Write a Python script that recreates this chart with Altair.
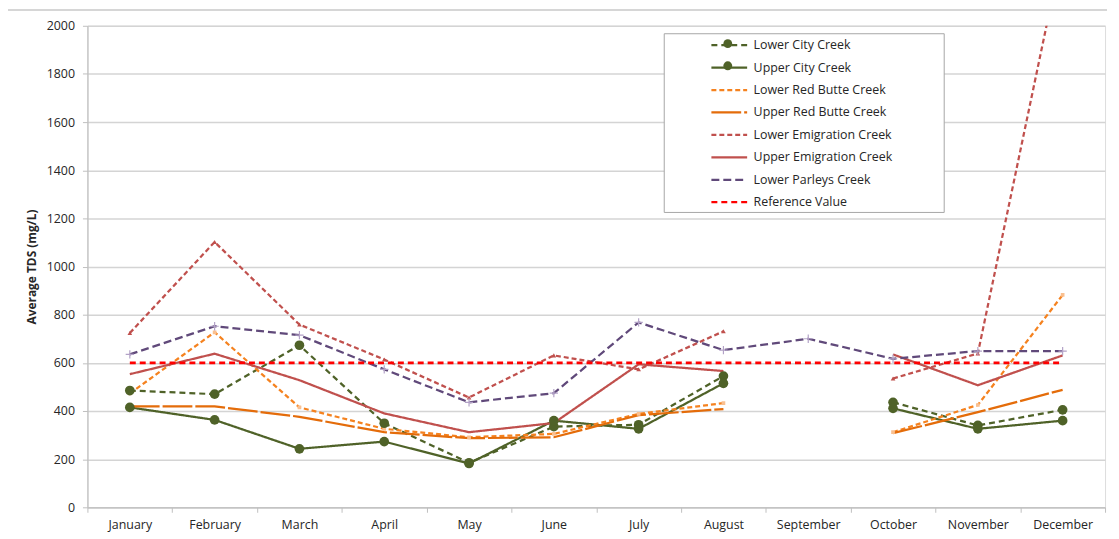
import altair as alt
import pandas as pd

months = ["January", "February", "March", "April", "May", "June", "July",
          "August", "September", "October", "November", "December"]

series_names = ["Lower City Creek", "Upper City Creek", "Lower Red Butte Creek",
                "Upper Red Butte Creek", "Lower Emigration Creek",
                "Upper Emigration Creek", "Lower Parleys Creek", "Reference Value"]

lower_city = [485, 470, 673, 349, 185, 335, 343, 545, None, 436, 340, 405]
upper_city = [415, 363, 243, 273, 182, 360, 326, 515, None, 411, 326, 360]
lower_red_butte = [473, 727, 415, 326, 291, 305, 388, 433, None, 312, 425, 882]
upper_red_butte = [419, 419, 376, 312, 287, 291, 383, 408, None, 308, 395, 488]
lower_emigration = [724, 1102, 759, 614, 456, 631, 573, 731, None, 535, 639, 2320]
upper_emigration = [553, 638, 528, 390, 312, 350, 594, 566, None, 635, 507, 631]
lower_parleys = [635, 752, 715, 573, 436, 474, 768, 653, 700, 617, 649, 649]
reference_value = [600, 600, 600, 600, 600, 600, 600, 600, 600, 600, 600, 600]

series_values = [lower_city, upper_city, lower_red_butte, upper_red_butte,
                 lower_emigration, upper_emigration, lower_parleys, reference_value]

series_colors = ["#4F6228", "#4F6228", "#F5821F", "#E46C0A",
                 "#C0504D", "#C0504D", "#60497A", "#FF0000"]
series_dashes = [[6, 4], [1, 0], [5, 3], [30, 3], [5, 3], [1, 0], [8, 4], [6, 4]]

rows = []
for name, vals in zip(series_names, series_values):
    for m, v in zip(months, vals):
        rows.append({"series": name, "month": m, "value": v})
df = pd.DataFrame(rows)

FONT = "Open Sans"

legend = alt.Legend(
    title=None, orient="none", legendX=636, legendY=9,
    symbolType="M-2,0H2", symbolSize=324, symbolStrokeWidth=2.25,
    labelFont=FONT, labelFontSize=12.5, labelColor="#262626", labelOffset=14,
    rowPadding=5.6, padding=0, symbolOffset=0,
)

x_enc = alt.X("month:N", sort=months,
              scale=alt.Scale(type="band", paddingInner=0, paddingOuter=0, domain=months),
              bandPosition=0.5,
              axis=alt.Axis(title=None, tickBand="extent", labelAngle=0, labelFont=FONT,
                            labelFontSize=12.5, labelColor="#262626", labelPadding=6,
                            tickSize=5, tickColor="#BFBFBF", domainColor="#BFBFBF",
                            domainWidth=1.2, grid=False))
y_enc = alt.Y("value:Q",
              scale=alt.Scale(domain=[0, 2000], nice=False, zero=True),
              axis=alt.Axis(title="Average TDS (mg/L)", values=list(range(0, 2001, 200)),
                            format="d",
                            labelFont=FONT, labelFontSize=12.5, labelColor="#262626",
                            labelPadding=8, tickSize=5, tickColor="#BFBFBF",
                            domainColor="#BFBFBF", domainWidth=1.2,
                            gridColor="#D4D4D4", gridWidth=1.5,
                            titleFont=FONT, titleFontSize=12, titleFontWeight="bold",
                            titleColor="#262626", titlePadding=8))
color_enc = alt.Color("series:N", scale=alt.Scale(domain=series_names, range=series_colors),
                      sort=series_names, legend=legend)
dash_enc = alt.StrokeDash("series:N", scale=alt.Scale(domain=series_names, range=series_dashes),
                          sort=series_names, legend=legend)

base = alt.Chart(df)

one = alt.Data(values=[{"a": 1}])

frame = alt.Chart(one).mark_rect(
    fill="white", stroke="#A6A6A6", strokeWidth=1
).encode(x=alt.value(581), x2=alt.value(863), y=alt.value(8), y2=alt.value(188))

top_border = alt.Chart(one).mark_rule(
    color="#C8C8C8", strokeWidth=1.5
).encode(x=alt.value(-83), x2=alt.value(1027), y=alt.value(-16))

# circle glyphs of the two City Creek legend entries
legend_dot1 = alt.Chart(one).mark_point(
    shape="circle", filled=True, size=80, color="#4F6228", opacity=1
).encode(x=alt.value(645), y=alt.value(18))
legend_dot2 = alt.Chart(one).mark_point(
    shape="circle", filled=True, size=80, color="#4F6228", opacity=1
).encode(x=alt.value(645), y=alt.value(40.3))

lines = base.transform_filter(alt.datum.series != "Reference Value").mark_line(
    strokeWidth=2.25, clip=True, invalid="break-paths-show-domains"
).encode(x=x_enc, y=y_enc, color=color_enc, strokeDash=dash_enc,
         detail="series:N")

ref_line = base.transform_filter(alt.datum.series == "Reference Value").mark_line(
    strokeWidth=2.75, clip=True
).encode(x=x_enc, y=y_enc, color=color_enc, strokeDash=dash_enc)


def markers(name, **kw):
    return base.transform_filter(
        (alt.datum.series == name) & alt.expr.isValid(alt.datum.value)
    ).mark_point(clip=True, **kw).encode(x=x_enc, y=y_enc)


city_lower = markers("Lower City Creek", shape="circle", filled=True, size=95,
                     color="#4F6228", opacity=1)
city_upper = markers("Upper City Creek", shape="circle", filled=True, size=95,
                     color="#4F6228", opacity=1)
parleys_pts = markers("Lower Parleys Creek", shape="M-1,0H1M0,-1V1", filled=False,
                      size=70, color="#B3A2C7", strokeWidth=1.2, opacity=1)
emig_pts = markers("Lower Emigration Creek", shape="triangle-up", filled=True, size=22,
                   color="#C0504D", opacity=1)
rb_pts = markers("Lower Red Butte Creek", shape="square", filled=True, size=14,
                 color="#FAC090", opacity=1)

chart = alt.layer(
    top_border, frame, legend_dot1, legend_dot2, lines, ref_line, rb_pts, emig_pts,
    parleys_pts, city_lower, city_upper
).properties(
    width=1025, height=485,
    autosize=alt.AutoSizeParams(type="none"),
    padding={"left": 80, "top": 16, "right": 6, "bottom": 30},
).configure_view(stroke=None).configure(background="white")

chart.save("out.html", embed_options={"renderer": "svg", "actions": False})
